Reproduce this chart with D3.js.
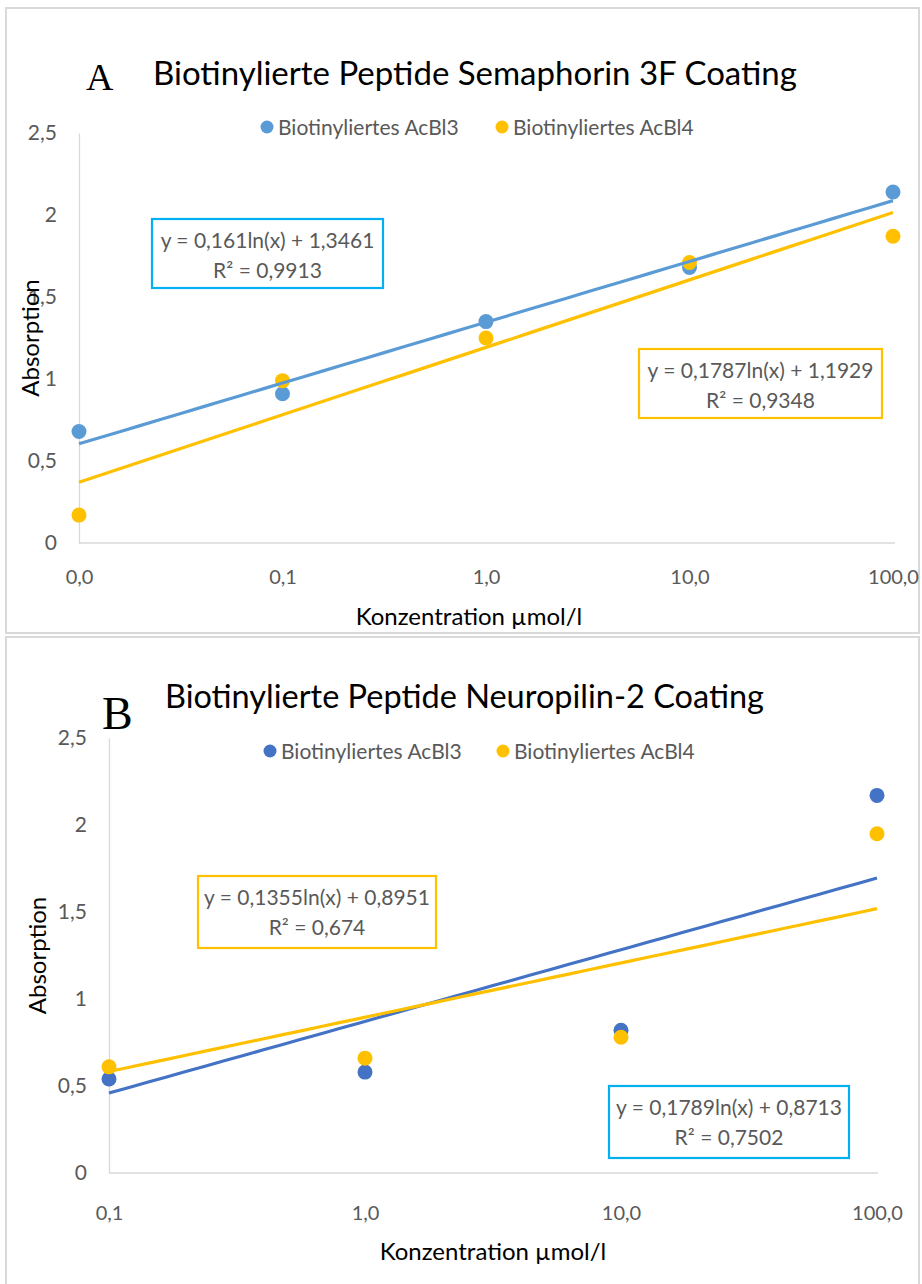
<!DOCTYPE html>
<html><head><meta charset="utf-8">
<script src="https://cdn.jsdelivr.net/npm/d3@7"></script>
<style>
html,body{margin:0;padding:0;background:#fff;}
svg text{font-family:Lato,"Open Sans",sans-serif;}
</style></head>
<body>
<svg id="chart" width="922" height="1284"></svg>
<script>
// ---------- DATA ----------
const seriesNames = ["Biotinyliertes AcBl3", "Biotinyliertes AcBl4"];
const yTicks = [0, 0.5, 1, 1.5, 2, 2.5];

// Panel A: Semaphorin 3F
const titleA = "Biotinylierte Peptide Semaphorin 3F Coating";
const concA = [0.01, 0.1, 1, 10, 100];
const absA_AcBl3 = [0.68, 0.91, 1.35, 1.68, 2.14];
const absA_AcBl4 = [0.17, 0.99, 1.25, 1.71, 1.87];
const fitA_AcBl3 = [0.161, 1.3461];
const fitA_AcBl4 = [0.1787, 1.1929];
const eqA_AcBl3 = ["y = 0,161ln(x) + 1,3461", "R² = 0,9913"];
const eqA_AcBl4 = ["y = 0,1787ln(x) + 1,1929", "R² = 0,9348"];

// Panel B: Neuropilin-2
const titleB = "Biotinylierte Peptide Neuropilin-2 Coating";
const concB = [0.1, 1, 10, 100];
const absB_AcBl3 = [0.54, 0.58, 0.82, 2.17];
const absB_AcBl4 = [0.61, 0.66, 0.78, 1.95];
const fitB_AcBl3 = [0.1789, 0.8713];
const fitB_AcBl4 = [0.1355, 0.8951];
const eqB_AcBl3 = ["y = 0,1789ln(x) + 0,8713", "R² = 0,7502"];
const eqB_AcBl4 = ["y = 0,1355ln(x) + 0,8951", "R² = 0,674"];

const xTitle = "Konzentration µmol/l";
const yTitle = "Absorption";

// ---------- DRAW ----------
const svg = d3.select("#chart");
const comma = v => d3.format(".1f")(v).replace(".", ",");
const commaY = v => String(v).replace(".", ",");

// panel frames
svg.append("rect").attr("x",6).attr("y",8).attr("width",913).attr("height",625)
  .attr("fill","#fff").attr("stroke","#d9d9d9").attr("stroke-width",2);
svg.append("rect").attr("x",6).attr("y",637).attr("width",913).attr("height",660)
  .attr("fill","#fff").attr("stroke","#d9d9d9").attr("stroke-width",2);

function panel(o){
  const g = svg.append("g");
  const x = d3.scaleLog().domain([o.conc[0], o.conc[o.conc.length-1]]).range([o.x0, o.x1]);
  const y = d3.scaleLinear().domain([0, 2.5]).range([o.y0, o.y1]);

  // axes
  const ya = g.append("g").attr("transform",`translate(${o.x0},0)`)
    .call(d3.axisLeft(y).tickValues(yTicks).tickSize(0).tickPadding(o.yPad).tickFormat(commaY));
  ya.select(".domain").attr("stroke","#d9d9d9").attr("stroke-width",1.3);
  ya.selectAll("text").attr("fill","#595959").style("font-size","21px").attr("font-family","Lato");

  const xa = g.append("g").attr("transform",`translate(0,${o.y0})`)
    .call(d3.axisBottom(x).tickValues(o.conc).tickSize(0).tickPadding(o.xPad).tickFormat(comma));
  xa.select(".domain").attr("stroke","#d9d9d9").attr("stroke-width",1.3)
    .attr("d", `M${o.x0},0H${o.xAxisEnd}`);
  xa.selectAll("text").attr("fill","#595959").style("font-size","20px").attr("font-family","Lato");

  // markers
  const sets = [{vals:o.s3, col:o.c3}, {vals:o.s4, col:o.c4}];
  sets.forEach(s=>{
    g.append("g").selectAll("circle").data(o.conc.map((c,i)=>[c,s.vals[i]])).join("circle")
      .attr("cx",d=>x(d[0])).attr("cy",d=>y(d[1])).attr("r",7.5).attr("fill",s.col);
  });
  // trend lines (logarithmic fit)
  [{f:o.f3, col:o.c3},{f:o.f4,col:o.c4}].forEach(t=>{
    const lo = Math.log10(o.conc[0]), hi = Math.log10(o.conc[o.conc.length-1]);
    const pts = d3.range(0,41).map(i=>Math.pow(10, lo + i/40*(hi-lo)));
    g.append("path").datum(pts).attr("fill","none").attr("stroke",t.col).attr("stroke-width",3.2)
      .attr("d", d3.line().x(d=>x(d)).y(d=>y(t.f[0]*Math.log(d)+t.f[1])));
  });

  // equation boxes
  o.boxes.forEach(b=>{
    g.append("rect").attr("x",b.x).attr("y",b.y).attr("width",b.w).attr("height",b.h)
      .attr("fill","#fff").attr("stroke",b.col).attr("stroke-width",2.2);
    b.lines.forEach((t,i)=>{
      g.append("text").attr("x",b.x+b.w/2).attr("y",b.y+29+i*30).attr("text-anchor","middle")
        .attr("fill","#595959").style("font-size","21px").text(t);
    });
  });

  // legend
  [{n:seriesNames[0],col:o.c3,x:o.legX[0]},{n:seriesNames[1],col:o.c4,x:o.legX[1]}].forEach(l=>{
    g.append("circle").attr("cx",l.x).attr("cy",o.legY).attr("r",6.5).attr("fill",l.col);
    g.append("text").attr("x",l.x+11).attr("y",o.legY+7.5).attr("fill","#595959")
      .style("font-size","21px").text(l.n);
  });

  // titles
  g.append("text").attr("x",o.titleX).attr("y",o.titleY).attr("fill","#000")
    .style("font-size",o.titleSize+"px").text(o.title);
  g.append("text").attr("x",o.letterX).attr("y",o.letterY).attr("fill","#000")
    .style("font-family","'Liberation Serif','Times New Roman',serif").style("font-size",o.letterSize+"px").text(o.letter);
  g.append("text").attr("transform",`translate(${o.yTitleX},${(o.y0+o.y1)/2}) rotate(-90)`)
    .attr("text-anchor","middle").attr("fill","#000").style("font-size","24px").text(yTitle);
  g.append("text").attr("x",o.xTitleX).attr("y",o.xTitleY).attr("text-anchor","middle")
    .attr("fill","#000").style("font-size","24px").text(xTitle);
}

panel({
  conc: concA, s3: absA_AcBl3, s4: absA_AcBl4, f3: fitA_AcBl3, f4: fitA_AcBl4,
  c3:"#5b9bd5", c4:"#ffc000",
  x0:79, x1:893, xAxisEnd:895, y0:543, y1:133, yPad:22, xPad:27,
  boxes:[{x:152,y:219,w:231,h:69,col:"#00b0f0",lines:eqA_AcBl3},
         {x:639,y:349,w:243,h:69,col:"#ffc000",lines:eqA_AcBl4}],
  legX:[267,502], legY:127,
  title:titleA, titleSize:33, titleX:153, titleY:85, letter:"A", letterX:86, letterY:90, letterSize:38,
  yTitleX:39, xTitleX:469, xTitleY:625
});
panel({
  conc: concB, s3: absB_AcBl3, s4: absB_AcBl4, f3: fitB_AcBl3, f4: fitB_AcBl4,
  c3:"#4472c4", c4:"#ffc000",
  x0:109, x1:877, xAxisEnd:878, y0:1173, y1:738, yPad:22, xPad:33,
  boxes:[{x:609,y:1086,w:240,h:72,col:"#00b0f0",lines:eqB_AcBl3},
         {x:198,y:876,w:238,h:72,col:"#ffc000",lines:eqB_AcBl4}],
  legX:[270,503], legY:751,
  title:titleB, titleSize:32.5, titleX:165, titleY:708, letter:"B", letterX:102, letterY:729, letterSize:46,
  yTitleX:46, xTitleX:493, xTitleY:1260
});
</script>
</body></html>
